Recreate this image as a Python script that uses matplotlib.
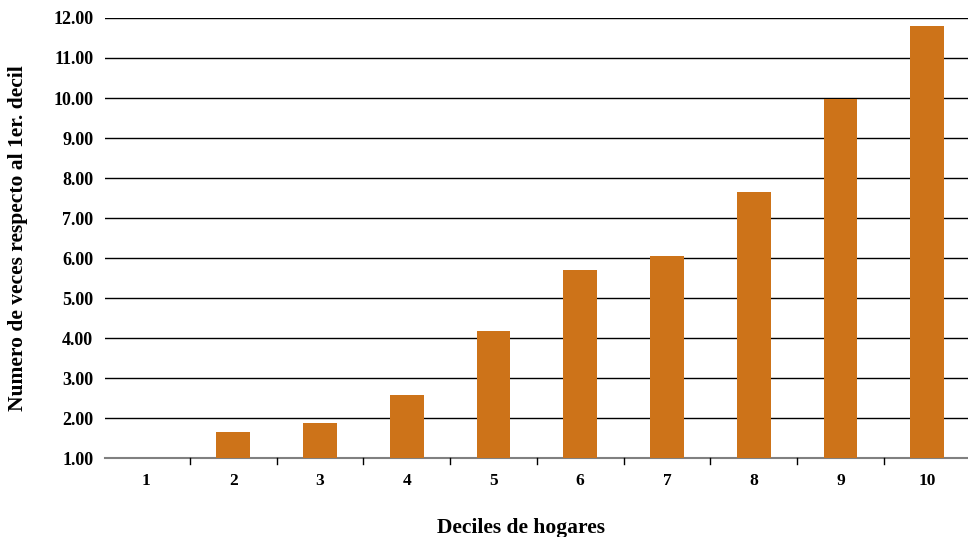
import matplotlib.pyplot as plt

# datos
deciles = ['1', '2', '3', '4', '5', '6', '7', '8', '9', '10']
veces = [1.00, 1.65, 1.87, 2.57, 4.17, 5.70, 6.05, 7.65, 9.97, 11.80]
yticks = [1, 2, 3, 4, 5, 6, 7, 8, 9, 10, 11, 12]

plt.rcParams['font.family'] = ['Liberation Serif', 'DejaVu Serif']
plt.rcParams['font.weight'] = 'bold'

fig = plt.figure(figsize=(9.68, 5.37), dpi=100)
ax = fig.add_axes([0.1085, 0.147, 0.8915, 0.8195])

x = list(range(len(deciles)))
alturas = [v - 1 for v in veces]
ax.bar(x, alturas, bottom=1, width=0.39, color='#cd7319', zorder=3)

ax.set_xlim(-0.477, 9.47)
ax.set_ylim(1, 12)
ax.set_yticks(yticks)
ax.set_yticklabels(['%.2f' % t for t in yticks], fontsize=13, fontweight='bold')
ax.set_xticks(x)
ax.set_xticklabels(deciles, fontsize=12.5, fontweight='bold')
ax.tick_params(axis='x', length=0, pad=10.5)
ax.tick_params(axis='y', length=0, pad=8.5)

# marcas entre categorias
for b in range(1, len(deciles)):
    ax.plot([b - 0.5, b - 0.5], [0.85, 1.0], color='black', lw=1, clip_on=False, zorder=4)

ax.grid(axis='y', color='black', lw=1, zorder=0)
for s in ['left', 'right', 'top']:
    ax.spines[s].set_visible(False)
ax.spines['bottom'].set_color('gray')
ax.spines['bottom'].set_linewidth(1.5)

ax.set_ylabel('Numero de veces respecto al 1er. decil', fontsize=15.5, fontweight='bold')
ax.yaxis.set_label_coords(-0.089, 0.5)
fig.text(521 / 968, 1 - 528 / 537, 'Deciles de hogares', ha='center', va='center',
         fontsize=15.5, fontweight='bold')

fig.savefig('out.png', dpi=100)
